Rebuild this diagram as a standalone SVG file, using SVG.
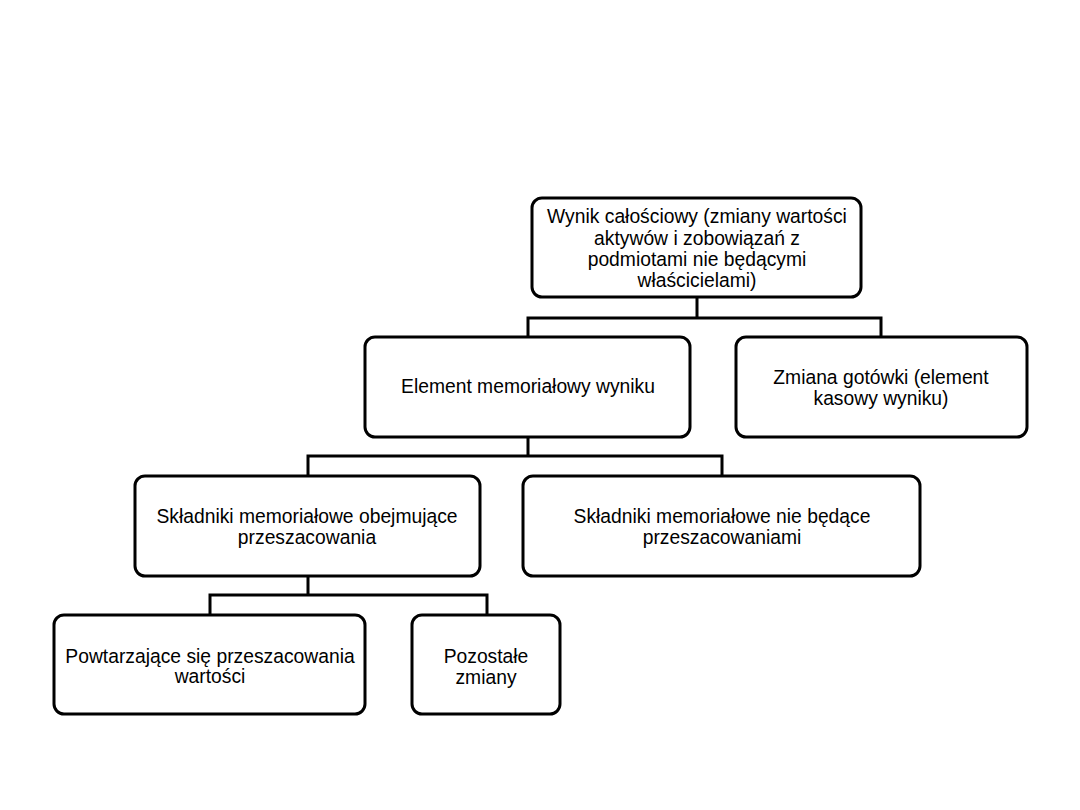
<svg xmlns="http://www.w3.org/2000/svg" width="1080" height="810" viewBox="0 0 1080 810">
<style>
.box{fill:#fff;stroke:#000;stroke-width:3}
.t{font-family:"Liberation Sans",Arial,sans-serif;font-size:19.3px;fill:#000;text-anchor:middle}
.c{fill:none;stroke:#000;stroke-width:3}
</style>
<rect width="1080" height="810" fill="#fff"/>
<g id="connectors">
<path class="c" d="M697 297V318M528 337V318H881V337"/>
<path class="c" d="M528 437V456M308 476V456H722V476"/>
<path class="c" d="M308 576V595M210 615V595H487V615"/>
</g>
<g id="n1"><rect class="box" x="532" y="198" width="329" height="99" rx="10"/>
<text class="t" x="697" y="223">Wynik całościowy (zmiany wartości</text>
<text class="t" x="697" y="245">aktywów i zobowiązań z</text>
<text class="t" x="697" y="266">podmiotami nie będącymi</text>
<text class="t" x="697" y="287">właścicielami)</text></g>
<g id="n2"><rect class="box" x="365" y="337" width="325" height="100" rx="10"/>
<text class="t" x="528" y="393">Element memoriałowy wyniku</text></g>
<g id="n3"><rect class="box" x="736" y="337" width="291" height="100" rx="10"/>
<text class="t" x="881" y="384">Zmiana gotówki (element</text>
<text class="t" x="881" y="405">kasowy wyniku)</text></g>
<g id="n4"><rect class="box" x="135" y="476" width="345" height="100" rx="10"/>
<text class="t" x="307" y="523">Składniki memoriałowe obejmujące</text>
<text class="t" x="307" y="544">przeszacowania</text></g>
<g id="n5"><rect class="box" x="523" y="476" width="397" height="100" rx="10"/>
<text class="t" x="722" y="523">Składniki memoriałowe nie będące</text>
<text class="t" x="722" y="544">przeszacowaniami</text></g>
<g id="n6"><rect class="box" x="54" y="615" width="311" height="99" rx="10"/>
<text class="t" x="210" y="663">Powtarzające się przeszacowania</text>
<text class="t" x="210" y="683">wartości</text></g>
<g id="n7"><rect class="box" x="412" y="615" width="148" height="99" rx="10"/>
<text class="t" x="486" y="663">Pozostałe</text>
<text class="t" x="486" y="684">zmiany</text></g>
</svg>
